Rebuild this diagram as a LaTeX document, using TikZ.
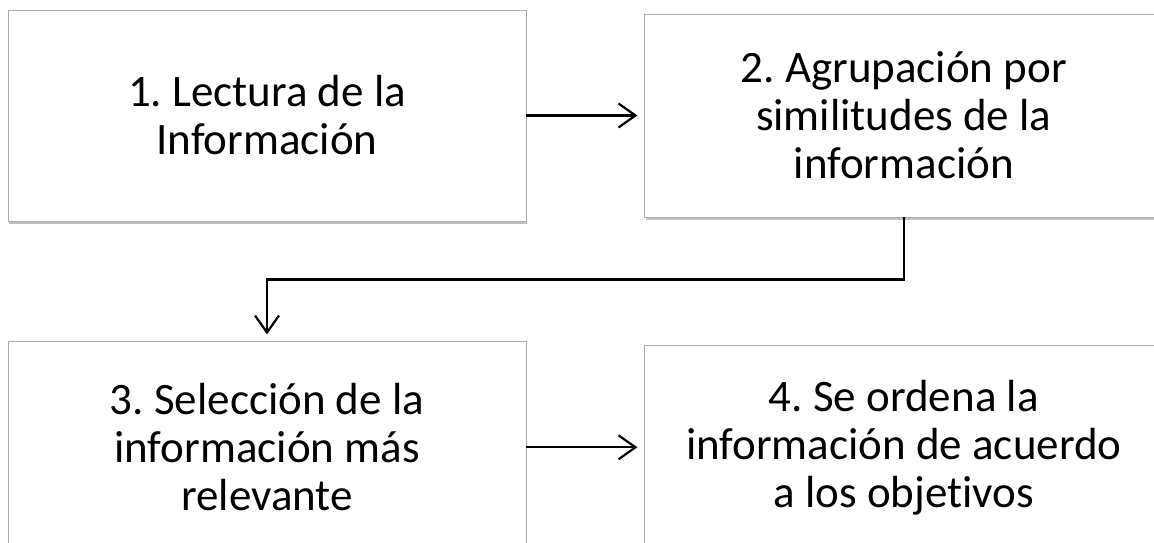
\documentclass[tikz,border=0pt]{standalone}
\usepackage{fontspec}
\setmainfont{Carlito}[Ligatures=NoCommon]
\usetikzlibrary{arrows.meta}
\usetikzlibrary{shadows}
\usetikzlibrary{positioning}

\begin{document}
\frenchspacing
\begin{tikzpicture}[x=1pt, y=1pt,
    caja/.style={draw=gray!65, line width=0.8pt, fill=white, minimum width=518pt, align=center,
        font=\fontsize{45}{48}\selectfont,
        drop shadow={shadow xshift=1pt, shadow yshift=-3pt, fill=black, opacity=0.25}},
    flecha/.style={line width=2.2pt, -{Straight Barb[length=17pt, width=24pt]}, shorten >=7pt}]
    \useasboundingbox (0,0) rectangle (1154,-542);

    \node[caja, minimum height=211pt] (lectura) at (267,-115.5) {1. Lectura de la\\Información};
    \node[caja, minimum height=203pt, right=118pt of lectura] (agrupacion) {2. Agrupación por\\similitudes de la\\información};
    \node[caja, minimum height=211pt, below=120pt of lectura] (seleccion) {3. Selección de la\\información más\\relevante};
    \node[caja, minimum height=203pt, right=118pt of seleccion] (orden) {4. Se ordena la\\información de acuerdo\\a los objetivos};

    \draw[flecha] (lectura) -- (agrupacion);
    \draw[flecha] (agrupacion.south) -- ++(0,-62) -| (seleccion.north);
    \draw[flecha] (seleccion) -- (orden);
  \end{tikzpicture}
\end{document}
